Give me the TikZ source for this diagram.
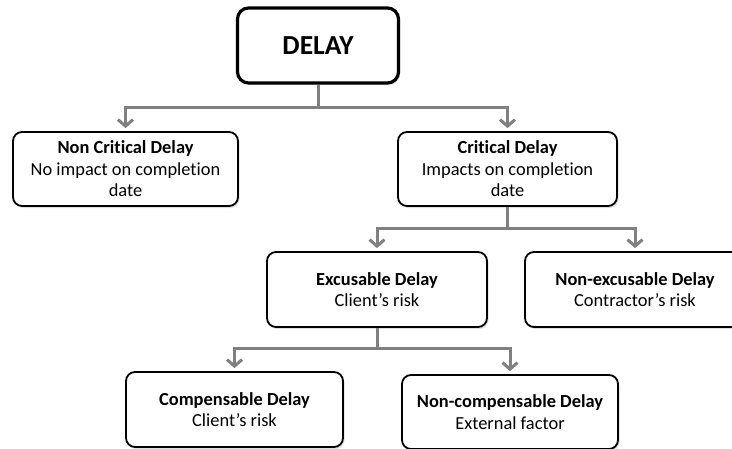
\documentclass[tikz,border=0pt]{standalone}
\usepackage{fontspec}
\setmainfont[Ligatures=NoCommon]{Carlito}
\usetikzlibrary{arrows.meta,shadows}
\definecolor{conngray}{RGB}{128,128,128}
\tikzset{
  box/.style={draw=black, line width=1.8pt, rounded corners=9pt, fill=white,
    align=center, inner sep=0pt,
    font=\fontsize{18.4}{21.5}\selectfont,
    drop shadow={opacity=0.25, shadow xshift=1.5pt, shadow yshift=-2pt}},
  titlebox/.style={box, line width=3.2pt, rounded corners=11pt,
    font=\fontsize{27.5}{31}\selectfont\bfseries},
  conn/.style={draw=conngray, line width=3pt},
  arr/.style={conn, -{Straight Barb[length=6.5pt,width=15pt]}, shorten >=3pt},
}
\begin{document}
\begin{tikzpicture}[x=1pt,y=-1pt]
\clip (0,0) rectangle (732,448);
\fill[white] (0,0) rectangle (732,448);
% nodes
\node[titlebox, minimum width=161pt, minimum height=75pt] (delay) at (318,45.5) {DELAY};
\node[box, minimum width=225pt, minimum height=74pt] (nc) at (125.5,169)
  {\textbf{Non Critical Delay}\\No impact on completion\\date};
\node[box, minimum width=219pt, minimum height=74pt] (cd) at (507.5,169)
  {\textbf{Critical Delay}\\Impacts on completion\\date};
\node[box, minimum width=220pt, minimum height=75pt] (ex) at (377,289.5)
  {\textbf{Excusable Delay}\\Client’s risk};
\node[box, minimum width=220pt, minimum height=75pt] (nex) at (635,289.5)
  {\textbf{Non-excusable Delay}\\Contractor’s risk};
\node[box, minimum width=217pt, minimum height=75pt] (comp) at (234.5,409.5)
  {\textbf{Compensable Delay}\\Client’s risk};
\node[box, minimum width=216pt, minimum height=74pt] (ncomp) at (510,412)
  {\textbf{Non-compensable Delay}\\External factor};
% junctions
\coordinate (j1) at (318,107);
\coordinate (j2) at (507.5,228);
\coordinate (j3) at (377,348);
% connectors
\draw[conn] (delay.south) -- (j1);
\draw[arr] (j1) -| (nc.north);
\draw[arr] (j1) -| (cd.north);
\draw[conn] (cd.south) -- (j2);
\draw[arr] (j2) -| (ex.north);
\draw[arr] (j2) -| (nex.north);
\draw[conn] (ex.south) -- (j3);
\draw[arr] (j3) -| (comp.north);
\draw[arr] (j3) -| (ncomp.north);
\end{tikzpicture}
\end{document}
